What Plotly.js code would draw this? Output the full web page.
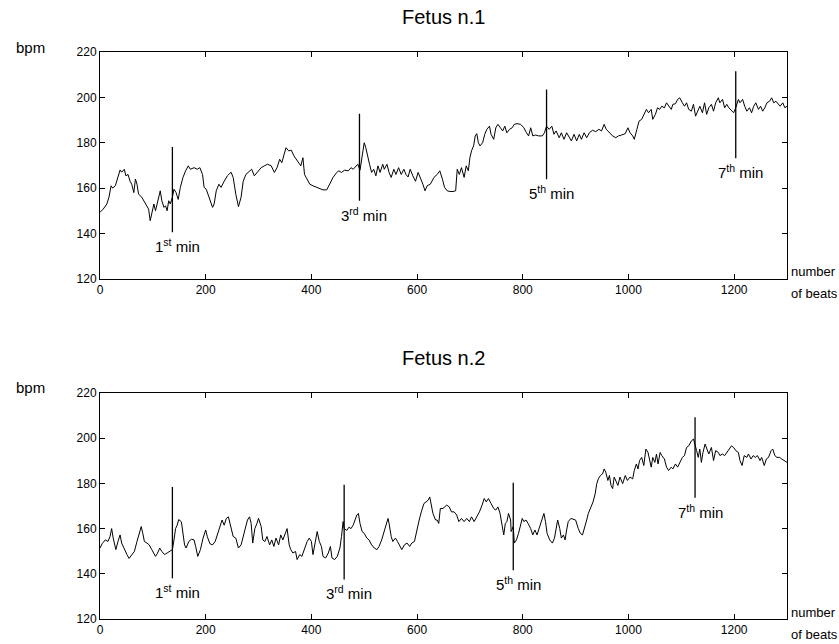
<!DOCTYPE html>
<html><head><meta charset="utf-8">
<script src="https://cdn.plot.ly/plotly-3.0.1.min.js"></script>
<style>html,body{margin:0;padding:0;background:#fff;}</style>
</head><body><div id="chart" style="width:839px;height:644px;"></div>
<script>
// ---- data ----
const chartTitles = ['Fetus n.1', 'Fetus n.2'];
const yLabel = 'bpm';
const xLabelLines = ['number', 'of beats'];
const xTicks = [0, 200, 400, 600, 800, 1000, 1200];
const yTicks = [120, 140, 160, 180, 200, 220];

const fetus1Beats = [0,6,13,17,21,24,29,34,38,41,46,49,53,57,60,64,67,70,73,79,83,89,92,95,98,102,105,108,111,114,117,121,124,127,130,133,137,140,144,148,152,157,162,167,171,178,184,189,194,197,201,206,213,216,220,225,229,235,241,248,252,257,262,267,271,276,281,287,292,298,305,311,
317,324,330,335,340,344,348,352,357,362,367,371,376,380,384,387,390,397,403,410,416,422,429,435,441,448,452,457,463,470,475,479,484,488,492,495,500,503,507,510,514,518,522,526,530,535,538,543,547,551,556,560,565,570,575,579,583,587,592,597,602,606,611,615,619,625,632,638,643,
648,652,657,662,668,673,676,680,684,689,693,697,700,703,707,710,713,716,719,724,728,732,737,740,745,749,753,757,762,766,770,775,780,784,789,796,802,807,811,815,819,824,830,837,841,845,850,855,859,863,869,873,878,883,888,892,897,902,907,911,916,921,926,932,938,944,949,954,958,964,970,976,
981,987,994,999,1003,1008,1011,1016,1020,1025,1030,1034,1038,1043,1046,1051,1055,1059,1063,1068,1072,1076,1081,1084,1089,1093,1097,1102,1106,1110,1114,1119,1123,1127,1131,1135,1140,1144,1148,1152,1157,1161,1165,1170,1173,1178,1182,1186,1190,1195,1199,1203,1208,1211,1216,1220,1224,1229,1233,1237,1241,1246,1250,1254,1258,1262,1267,1271,1275,1279,1284,1287,1292,1296,1300];
const fetus1Bpm = [149.3,150.7,153,156,161,160,161,164.7,168,167,168.3,165.4,166,163,161.7,158,164,161.7,157.3,156,154.4,151.5,150.7,145.6,149.3,153,150,153,155,158.8,154.4,151.5,152.2,150,154.4,153,156,159.5,158,155,160.3,164.7,167.6,169.8,168.3,169,168.3,169,166,160.3,159.5,156,151.5,153,158.8,161.7,160.3,163,165.4,167,164.7,157.3,151.8,156,163,166,167,168.3,165.4,167,169,169.8,
170.5,169.8,166.9,169,172.7,171.2,174.9,177.8,176.4,176.7,174.2,172.7,171.2,169.8,173.4,166,164.7,161.7,161,160.3,160,159.2,159.2,161.7,164.7,166.9,167.6,166.9,167.9,167.6,169,168.3,169.8,170.5,167.9,172.7,180,177.8,172.7,170.5,166.9,168.3,165.4,169.8,166.9,170.5,168.3,170.5,166.9,164.7,168.3,166,169,166,168.3,166,164.9,168.3,165.4,163,166.9,164.7,161.7,158.8,161,161.7,164.7,166,167.6,
163.9,160.3,158.8,158.5,158.5,158.8,168.3,166,169,164.7,169.8,167.6,173.4,176.4,178.6,183,184,180,178.6,180,183.7,185.9,187.3,183.7,181.5,186.6,188.1,186.6,185.2,187.3,184.4,185.9,186.6,188.1,188.4,188.1,186.6,184.4,183,186.6,183,183.4,183,183,184.4,187.3,185.9,187.3,183.7,185.2,182.2,184.4,181.5,184.4,182.2,180.8,183.7,180.8,183.7,181.5,184.4,182.2,184.4,185.5,184.9,185.9,185.2,188.1,185.9,184.4,183,182.2,
183,183.4,184,186.6,184.4,183,181.5,185.9,189.5,190.3,193.2,194.7,193.2,194.7,190.3,192.5,195.4,194.7,196.1,195.4,197.6,196.1,194.7,196.9,197.2,199.1,199.8,197.6,196.1,197.6,194.7,193.9,196.9,191.7,193.9,196.1,193.2,197.6,192.5,195.4,196.9,193.9,197.6,199.8,197.6,199.1,195.4,196.9,195.4,193.9,193.2,195.4,199.1,197.6,199.1,196.1,193.9,195.4,193.2,196.1,197.6,194.7,196.1,193.9,195.4,197.6,198.3,199.8,197.6,198.3,196.9,196.1,197.6,195.4,196.1];

const fetus2Beats = [0,4,10,15,19,22,25,30,34,38,41,46,51,55,60,65,70,74,78,81,84,89,93,98,105,109,113,117,122,127,131,137,140,143,146,149,154,157,160,163,168,173,178,181,185,190,195,200,203,208,213,218,222,227,231,235,239,243,248,252,257,262,267,271,275,279,283,286,289,293,297,300,305,308,312,316,
321,325,329,333,338,342,346,350,354,358,361,365,370,373,378,382,387,392,396,400,403,408,411,415,419,422,427,432,436,439,444,449,454,457,460,462,467,471,475,479,483,486,489,492,496,500,505,509,514,519,524,528,533,538,542,545,547,551,554,559,563,567,571,576,581,586,590,595,600,604,608,613,617,621,624,627,630,635,638,641,644,649,
656,661,665,670,675,679,684,689,694,699,703,708,713,718,723,727,731,735,740,745,749,753,757,761,764,767,770,773,777,778,782,784,788,792,796,799,802,806,810,815,819,823,827,832,836,840,843,846,851,856,860,864,866,870,873,877,880,883,886,891,896,900,905,909,913,917,921,924,929,933,937,940,943,947,951,954,957,961,964,967,970,973,
980,984,989,994,998,1003,1008,1011,1015,1018,1021,1025,1029,1033,1037,1040,1043,1046,1050,1053,1056,1060,1063,1068,1072,1076,1081,1084,1089,1093,1097,1102,1106,1110,1114,1119,1123,1125,1129,1132,1135,1138,1141,1145,1148,1152,1157,1161,1165,1170,1173,1178,1182,1186,1190,1195,1199,1203,1208,1211,1215,1219,1224,1227,1232,1236,1240,1244,1249,1252,1257,1261,1265,1270,1273,1277,1281,1286,1290,1295,1300];
const fetus2Bpm = [151.4,153.3,155,154.3,156.5,160,155.8,150.7,154.3,157.2,153.6,150.7,148.5,146.8,148.5,149.9,154.3,157.9,160.9,157.9,154.3,153.6,152.8,150.7,147.7,149.2,151.4,149.9,148.5,149.2,149.9,150.7,155,160,161.5,164,163,157.9,152.8,151.4,154.3,155.3,155,152.1,147.7,150.7,155.8,159.4,156.5,153.3,152.8,154.3,157.2,160.9,163.8,161.5,164.5,165.2,160.9,156.5,155.8,151.4,152.8,156.5,160.9,163.8,165.2,162.3,153.6,160,162.3,164.5,160.9,155,154.3,156.5,
152.8,155,152.1,155.8,152.8,157.2,155,157.9,160,152.8,150.7,149.2,149.9,146.3,148.5,147.7,151.4,154.3,155.8,154.3,148.5,155.8,158.7,154.3,152.1,147.7,147,149.2,152.1,147,146.3,147.7,151.4,156.5,163.1,160,159.2,160.6,160,161.5,163.8,166,166.7,162.3,158.7,157.9,155.8,155,152.8,151.4,150.7,152.1,155,158.7,161.5,164.5,162.3,156.5,154.3,155.8,154.3,152.8,150.7,152.8,153.6,152.1,153.6,154.3,160,163.8,167.4,171.1,171.8,172.6,174,170.4,166.7,163.8,163.8,162.3,168.9,168.9,
170.4,169.6,167.4,167.4,166,163.1,164.5,163.1,164.5,163.1,165.2,163.1,165.2,167.4,170.4,173.3,171.8,173.3,171.1,168.9,168.2,169.6,166.7,160.9,157.2,162.3,163.1,166.7,163.8,158.7,160.9,153.6,155,157.9,162.3,164.5,163.1,163.8,162.3,160,157.2,159.4,157.2,160.9,163.8,166.7,163.1,157.9,155,153.6,155.8,162.3,163.8,160,155.8,157.2,155,159.4,163.1,164.5,164,163.8,160,157.9,157.2,160,163.8,166.7,169.6,171.8,175.4,179.9,182,183.5,184.2,186.4,185,181.3,183.5,179.1,177.7,182.8,
179.1,182.8,179.9,183.5,181.3,182.8,182,185.7,188.6,186.4,190.1,191.5,187.9,195.2,193.7,190.8,187.2,191.5,189.3,193,188.6,193.7,192.3,190.8,187.2,185.7,187.2,186.4,188.6,187.2,189.3,191.5,192.3,195.9,196.6,198.8,199.6,197.4,194.5,191.5,195.2,189.3,193.7,197.4,195.2,193,195.9,190.1,194.5,193.7,192.3,193,192.3,193.7,195.2,196.6,195.9,194.5,193.7,190.1,187.9,192.3,191.5,193,190.8,192.3,191.5,192.3,190.1,191.5,187.9,190.8,191.5,194.5,195.2,192.3,191.5,191.5,190.8,190.1,189.3];

const minuteLabels = ['1<sup>st</sup> min', '3<sup>rd</sup> min', '5<sup>th</sup> min', '7<sup>th</sup> min'];
const fetus1MarkBeats = [137, 491, 845, 1203];
const fetus1MarkLow = [140.5, 154.4, 163.9, 173.1];
const fetus1MarkHigh = [178.1, 192.8, 203.5, 211.5];
const fetus2MarkBeats = [137, 462, 782, 1126];
const fetus2MarkLow = [138, 137.5, 141.6, 173.6];
const fetus2MarkHigh = [178.4, 179.4, 180.3, 209.3];

// ---- build ----
const FONT = 'Liberation Sans, Arial, sans-serif';
function markerTrace(beats, low, high, xa, ya) {
  const x = [], y = [];
  beats.forEach((b, i) => { x.push(b, b, null); y.push(low[i], high[i], null); });
  return {x, y, xaxis: xa, yaxis: ya, mode: 'lines', line: {color: '#000', width: 1.3}, hoverinfo: 'skip', showlegend: false};
}
const traces = [
  {x: fetus1Beats, y: fetus1Bpm, xaxis: 'x', yaxis: 'y', mode: 'lines', line: {color: '#000', width: 1}, showlegend: false},
  markerTrace(fetus1MarkBeats, fetus1MarkLow, fetus1MarkHigh, 'x', 'y'),
  {x: fetus2Beats, y: fetus2Bpm, xaxis: 'x2', yaxis: 'y2', mode: 'lines', line: {color: '#000', width: 1}, showlegend: false},
  markerTrace(fetus2MarkBeats, fetus2MarkLow, fetus2MarkHigh, 'x2', 'y2')
];

function xAx(anchor) {
  return {anchor, range: [0, 1300], tickvals: xTicks, ticks: 'inside', ticklen: 5, tickcolor: '#000',
    showline: true, linecolor: '#000', linewidth: 1, mirror: 'ticks', showgrid: false, zeroline: false,
    tickfont: {family: FONT, size: 12, color: '#000'}, fixedrange: true};
}
function yAx(anchor, domain) {
  return {anchor, domain, range: [120, 220], tickvals: yTicks, ticks: 'inside', ticklen: 5, tickcolor: '#000',
    showline: true, linecolor: '#000', linewidth: 1, mirror: 'ticks', showgrid: false, zeroline: false,
    tickfont: {family: FONT, size: 12, color: '#000'}, fixedrange: true};
}

const annotations = [];
function minuteAnn(beats, low, xr, yr) {
  beats.forEach((b, i) => annotations.push({x: b, y: low[i], xref: xr, yref: yr, text: minuteLabels[i],
    showarrow: false, xanchor: 'center', yanchor: 'top', xshift: 5, yshift: -2,
    font: {family: FONT, size: 15, color: '#000'}}));
}
minuteAnn(fetus1MarkBeats, fetus1MarkLow, 'x', 'y');
minuteAnn(fetus2MarkBeats, fetus2MarkLow, 'x2', 'y2');

const panelTop = [1.0, 0.3986];
const panelBottom = [0.6, 0.0];
const xLabelShift = [7, -15];
[0, 1].forEach(k => {
  annotations.push({xref: 'paper', yref: 'paper', x: 0.5, y: panelTop[k], yshift: 35, text: chartTitles[k], showarrow: false,
    xanchor: 'center', yanchor: 'middle', font: {family: FONT, size: 20, color: '#000'}});
  annotations.push({xref: 'paper', yref: 'paper', x: 0, y: panelTop[k], xshift: -70, yshift: 5, text: yLabel, showarrow: false,
    xanchor: 'center', yanchor: 'middle', font: {family: FONT, size: 15, color: '#000'}});
  xLabelLines.forEach((t, j) => annotations.push({xref: 'paper', yref: 'paper', x: 1, y: panelBottom[k], xshift: 2, yshift: xLabelShift[j],
    text: t, showarrow: false, xanchor: 'left', yanchor: 'middle', font: {family: FONT, size: 13, color: '#000'}}));
});

const layout = {
  width: 839, height: 644, paper_bgcolor: '#fff', plot_bgcolor: '#fff',
  margin: {l: 100, r: 52, t: 52, b: 25},
  xaxis: xAx('y'), yaxis: yAx('x', [0.6, 1]),
  xaxis2: xAx('y2'), yaxis2: yAx('x2', [0, 0.3986]),
  annotations, showlegend: false, hovermode: false
};
Plotly.newPlot('chart', traces, layout, {staticPlot: true, displayModeBar: false});
</script>
</body></html>
